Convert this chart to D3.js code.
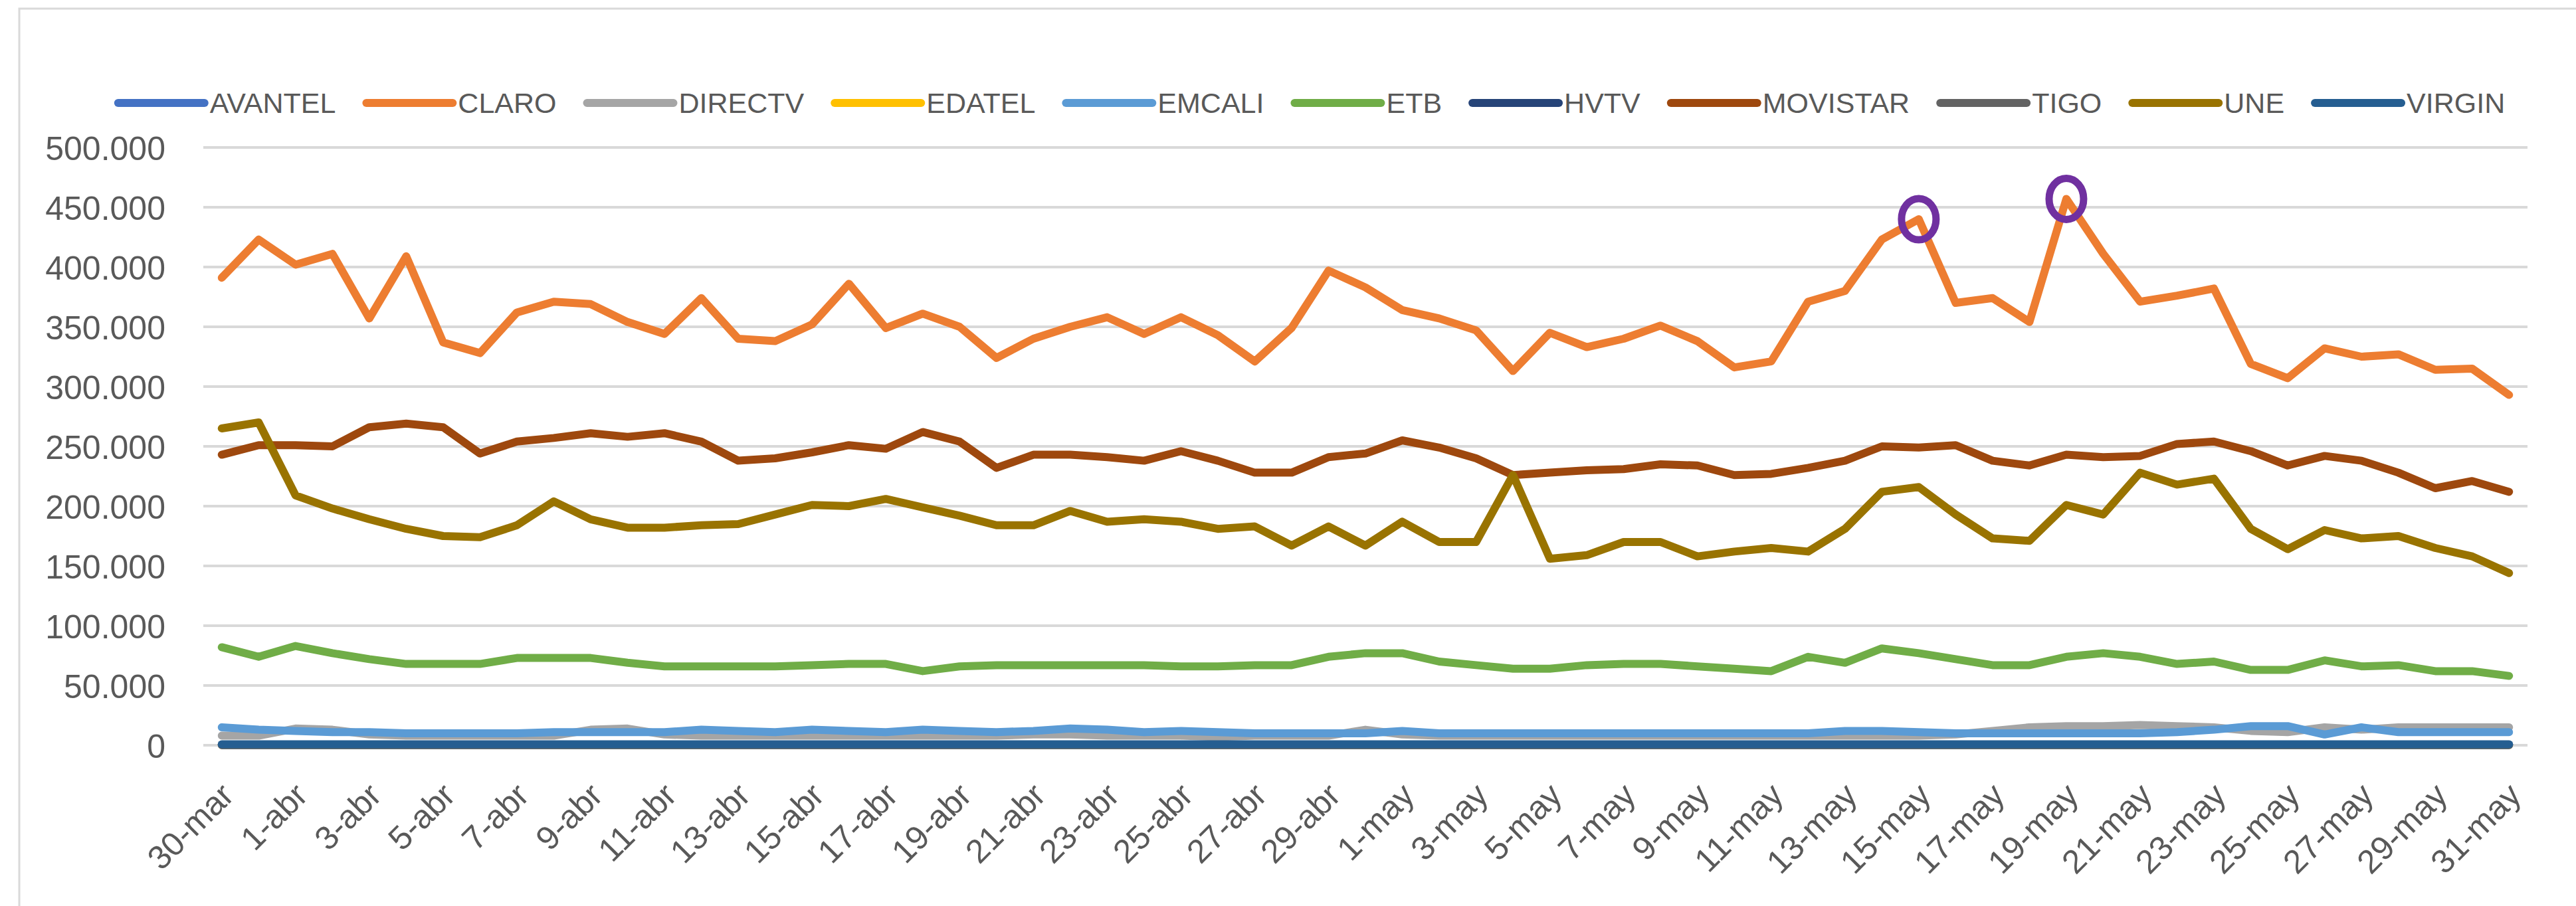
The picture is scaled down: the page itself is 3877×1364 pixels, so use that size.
<!DOCTYPE html>
<html>
<head>
  <meta charset="utf-8">
  <title>Operadores por día</title>
  <script src="https://d3js.org/d3.v7.min.js"></script>
  <style>
    body { margin: 0; background: #fff; }
    svg text { font-family: "Liberation Sans", Arial, sans-serif; fill: #595959; }
  </style>
</head>
<body>
  <svg id="chart"></svg>

  <script>
    // categories: one per day, 30-mar to 31-may
    var days = [
      "30-mar", "31-mar",
      "1-abr", "2-abr", "3-abr", "4-abr", "5-abr", "6-abr", "7-abr", "8-abr", "9-abr", "10-abr",
      "11-abr", "12-abr", "13-abr", "14-abr", "15-abr", "16-abr", "17-abr", "18-abr", "19-abr", "20-abr",
      "21-abr", "22-abr", "23-abr", "24-abr", "25-abr", "26-abr", "27-abr", "28-abr", "29-abr", "30-abr",
      "1-may", "2-may", "3-may", "4-may", "5-may", "6-may", "7-may", "8-may", "9-may", "10-may",
      "11-may", "12-may", "13-may", "14-may", "15-may", "16-may", "17-may", "18-may", "19-may", "20-may",
      "21-may", "22-may", "23-may", "24-may", "25-may", "26-may", "27-may", "28-may", "29-may", "30-may",
      "31-may"
    ];

    var operators = ["AVANTEL", "CLARO", "DIRECTV", "EDATEL", "EMCALI", "ETB", "HVTV", "MOVISTAR", "TIGO", "UNE", "VIRGIN"];
    var colors = ["#4472C4", "#ED7D31", "#A5A5A5", "#FFC000", "#5B9BD5", "#70AD47", "#264478", "#9E480E", "#636363", "#997300", "#255E91"];

    // values in thousands
    var avantel = [
      600, 600, 600, 600, 600, 600, 600, 600, 600, 600, 600,
      600, 600, 600, 600, 600, 600, 600, 600, 600, 600,
      600, 600, 600, 600, 600, 600, 600, 600, 600, 600,
      600, 600, 600, 600, 600, 600, 600, 600, 600, 600, 600,
      600, 600, 600, 600, 600, 600, 600, 600, 600, 600, 600,
      600, 600, 600, 600, 600, 600, 600, 600, 600, 600
    ];
    var claro = [
      391, 423, 402, 411, 357, 409, 337, 328, 362, 371, 369,
      354, 344, 374, 340, 338, 352, 386, 349, 361, 350,
      324, 340, 350, 358, 344, 358, 343, 321, 349, 397,
      383, 364, 357, 347, 313, 345, 333, 340, 351, 338, 316,
      321, 371, 380, 423, 440, 370, 374, 354, 457, 411, 371,
      376, 382, 319, 307, 332, 325, 327, 314, 315, 293
    ];
    var directv = [
      8, 8, 14, 13, 9, 8, 8, 8, 8, 8, 13,
      14, 9, 8, 8, 8, 8, 8, 8, 8, 8,
      8, 9, 9, 8, 8, 8, 7, 8, 8, 8,
      13, 9, 8, 8, 8, 8, 8, 8, 8, 8, 8,
      8, 8, 8, 8, 8, 9, 12, 15, 16, 16, 17,
      16, 15, 12, 11, 15, 13, 15, 15, 15, 15
    ];
    var edatel = [
      100, 100, 100, 100, 100, 100, 100, 100, 100, 100, 100,
      100, 100, 100, 100, 100, 100, 100, 100, 100, 100,
      100, 100, 100, 100, 100, 100, 100, 100, 100, 100,
      100, 100, 100, 100, 100, 100, 100, 100, 100, 100, 100,
      100, 100, 100, 100, 100, 100, 100, 100, 100, 100, 100,
      100, 100, 100, 100, 100, 100, 100, 100, 100, 100
    ];
    var emcali = [
      15, 13, 12, 11, 11, 10, 10, 10, 10, 11, 11,
      11, 11, 13, 12, 11, 13, 12, 11, 13, 12,
      11, 12, 14, 13, 11, 12, 11, 10, 10, 10,
      10, 12, 10, 10, 10, 10, 10, 10, 10, 10, 10,
      10, 10, 12, 12, 11, 10, 10, 10, 10, 10, 10,
      11, 13, 16, 16, 9, 15, 11, 11, 11, 11
    ];
    var etb = [
      82, 74, 83, 77, 72, 68, 68, 68, 73, 73, 73,
      69, 66, 66, 66, 66, 67, 68, 68, 62, 66,
      67, 67, 67, 67, 67, 66, 66, 67, 67, 74,
      77, 77, 70, 67, 64, 64, 67, 68, 68, 66, 64,
      62, 74, 69, 81, 77, 72, 67, 67, 74, 77, 74,
      68, 70, 63, 63, 71, 66, 67, 62, 62, 58
    ];
    var hvtv = [
      200, 200, 200, 200, 200, 200, 200, 200, 200, 200, 200,
      200, 200, 200, 200, 200, 200, 200, 200, 200, 200,
      200, 200, 200, 200, 200, 200, 200, 200, 200, 200,
      200, 200, 200, 200, 200, 200, 200, 200, 200, 200, 200,
      200, 200, 200, 200, 200, 200, 200, 200, 200, 200, 200,
      200, 200, 200, 200, 200, 200, 200, 200, 200, 200
    ];
    var movistar = [
      243, 251, 251, 250, 266, 269, 266, 244, 254, 257, 261,
      258, 261, 254, 238, 240, 245, 251, 248, 262, 254,
      232, 243, 243, 241, 238, 246, 238, 228, 228, 241,
      244, 255, 249, 240, 226, 228, 230, 231, 235, 234, 226,
      227, 232, 238, 250, 249, 251, 238, 234, 243, 241, 242,
      252, 254, 246, 234, 242, 238, 228, 215, 221, 212
    ];
    var tigo = [
      500, 500, 500, 500, 500, 500, 500, 500, 500, 500, 500,
      500, 500, 500, 500, 500, 500, 500, 500, 500, 500,
      500, 500, 500, 500, 500, 500, 500, 500, 500, 500,
      500, 500, 500, 500, 500, 500, 500, 500, 500, 500, 500,
      500, 500, 500, 500, 500, 500, 500, 500, 500, 500, 500,
      500, 500, 500, 500, 500, 500, 500, 500, 500, 500
    ];
    var une = [
      265, 270, 209, 198, 189, 181, 175, 174, 184, 204, 189,
      182, 182, 184, 185, 193, 201, 200, 206, 199, 192,
      184, 184, 196, 187, 189, 187, 181, 183, 167, 183,
      167, 187, 170, 170, 226, 156, 159, 170, 170, 158, 162,
      165, 162, 181, 212, 216, 193, 173, 171, 201, 193, 228,
      218, 223, 181, 164, 180, 173, 175, 165, 158, 144
    ];
    var virgin = [
      800, 800, 800, 800, 800, 800, 800, 800, 800, 800, 800,
      800, 800, 800, 800, 800, 800, 800, 800, 800, 800,
      800, 800, 800, 800, 800, 800, 800, 800, 800, 800,
      800, 800, 800, 800, 800, 800, 800, 800, 800, 800, 800,
      800, 800, 800, 800, 800, 800, 800, 800, 800, 800, 800,
      800, 800, 800, 800, 800, 800, 800, 800, 800, 800
    ];

    // the hidden small operators are given in units, the rest in thousands
    var seriesValues = [
      avantel, claro.map(v => v * 1000), directv.map(v => v * 1000), edatel,
      emcali.map(v => v * 1000), etb.map(v => v * 1000), hvtv,
      movistar.map(v => v * 1000), tigo, une.map(v => v * 1000), virgin
    ];

    var yTicks = [0, 50000, 100000, 150000, 200000, 250000, 300000, 350000, 400000, 450000, 500000];
    var circled = ["15-may", "19-may"];   // CLARO peaks marked in purple

    var width = 3877;
    var height = 1364;

    var svg = d3.select("#chart")
                .attr("width", width)
                .attr("height", height);

    svg.append("rect")
       .attr("width", width).attr("height", height)
       .attr("fill", "#fff");

    // chart area border (only top and left are in frame)
    svg.append("rect")
       .attr("x", 29).attr("y", 13)
       .attr("width", width).attr("height", height)
       .attr("fill", "none")
       .attr("stroke", "#d9d9d9")
       .attr("stroke-width", 3);

    var x = d3.scalePoint().domain(days).range([306, 3804]).padding(0.5);
    var y = d3.scaleLinear().domain([0, 500000]).range([1122, 222]);

    var es = d3.formatLocale({ decimal: ",", thousands: ".", grouping: [3], currency: ["$", ""] });
    var fmt = es.format(",.0f");

    // gridlines
    svg.append("g")
       .selectAll("line")
       .data(yTicks)
       .enter().append("line")
       .attr("x1", 306).attr("x2", 3804)
       .attr("y1", d => y(d)).attr("y2", d => y(d))
       .attr("stroke", "#d9d9d9")
       .attr("stroke-width", 4);

    // y axis labels
    var yAxis = svg.append("g")
                   .attr("transform", "translate(306,0)")
                   .call(d3.axisLeft(y).tickValues(yTicks).tickFormat(fmt).tickSize(0).tickPadding(57));
    yAxis.select(".domain").remove();
    yAxis.selectAll("text")
         .attr("font-size", 50)
         .attr("font-family", null)
         .attr("dy", "0.36em");

    // x axis labels, every second day, rotated
    var xAxis = svg.append("g")
                   .attr("transform", "translate(0,1122)")
                   .call(d3.axisBottom(x).tickValues(days.filter((d, i) => i % 2 === 0)).tickSize(0));
    xAxis.select(".domain").remove();
    xAxis.selectAll("text")
         .attr("font-size", 50)
         .attr("font-family", null)
         .attr("text-anchor", "end")
         .attr("y", 0)
         .attr("dy", "0.35em")
         .attr("transform", "translate(8,66) rotate(-45)");

    // series lines, drawn in legend order
    var line = d3.line()
                 .x((d, i) => x(days[i]))
                 .y(d => y(d));

    svg.append("g")
       .selectAll("path")
       .data(seriesValues)
       .enter().append("path")
       .attr("d", d => line(d))
       .attr("fill", "none")
       .attr("stroke", (d, i) => colors[i])
       .attr("stroke-width", 12)
       .attr("stroke-linejoin", "round")
       .attr("stroke-linecap", "round");

    // purple ellipses on the two CLARO peaks
    svg.append("g")
       .selectAll("ellipse")
       .data(circled)
       .enter().append("ellipse")
       .attr("cx", d => x(d))
       .attr("cy", d => y(claro[days.indexOf(d)] * 1000))
       .attr("rx", 26)
       .attr("ry", 31)
       .attr("fill", "none")
       .attr("stroke", "#7030A0")
       .attr("stroke-width", 11);

    // legend across the top
    var legend = svg.append("g").attr("transform", "translate(0,155)");
    var items = legend.selectAll("g")
                      .data(operators)
                      .enter().append("g");
    items.append("line")
         .attr("x1", 0).attr("x2", 130)
         .attr("stroke", (d, i) => colors[i])
         .attr("stroke-width", 12)
         .attr("stroke-linecap", "round");
    items.append("text")
         .attr("x", 138)
         .attr("dy", "0.36em")
         .attr("font-size", 43)
         .text(d => d);

    var widths = [];
    items.select("text").each(function() { widths.push(this.getComputedTextLength()); });
    var gap = 46;
    var total = d3.sum(widths) + operators.length * 138 + gap * (operators.length - 1);
    var pos = 1974 - total / 2;
    items.attr("transform", function(d, i) {
      var tx = pos;
      pos += 138 + widths[i] + gap;
      return "translate(" + tx + ",0)";
    });
  </script>
</body>
</html>
